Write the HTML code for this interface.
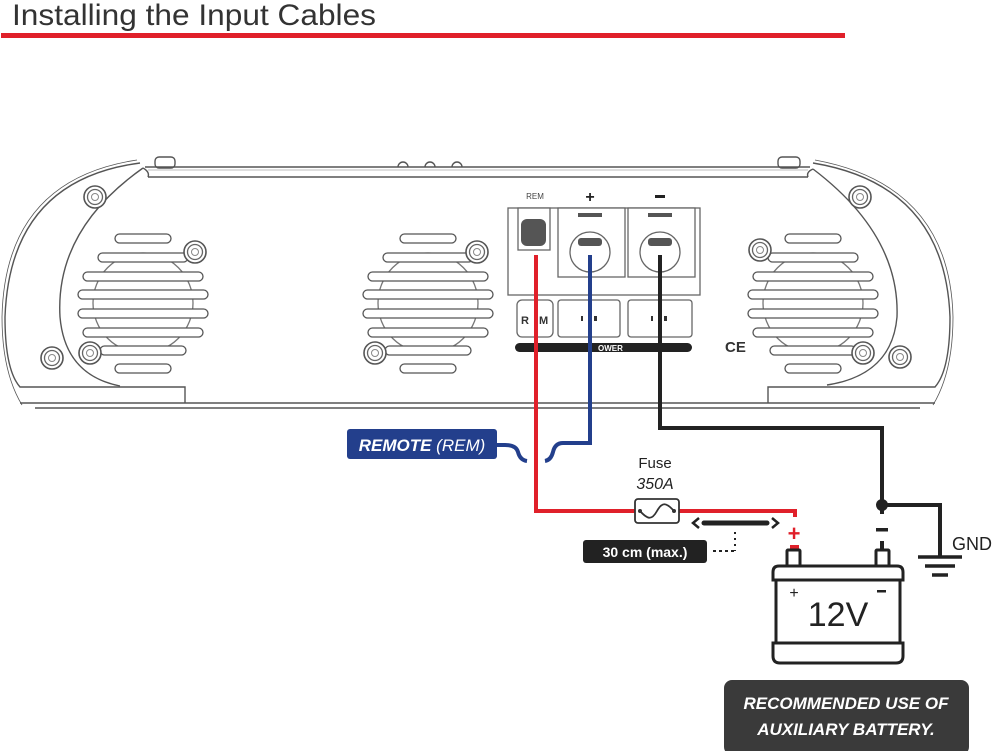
<!DOCTYPE html>
<html><head><meta charset="utf-8"><style>
html,body{margin:0;padding:0;background:#fff;}
svg{display:block;}
text{font-family:"Liberation Sans",sans-serif;}
</style></head><body>
<svg width="1000" height="751" viewBox="0 0 1000 751" xmlns="http://www.w3.org/2000/svg">
<defs>
<g id="screw"><circle r="11" fill="#fff" stroke="#555" stroke-width="1.6"/><circle r="7.5" fill="none" stroke="#666" stroke-width="1.3"/><circle r="3.5" fill="none" stroke="#888" stroke-width="1"/></g>
<g id="fan" fill="#fff" stroke="#555" stroke-width="1.3">
<circle cx="0" cy="303" r="50" fill="none" stroke="#777"/>
<rect x="-28" y="234" width="56" height="9" rx="4.5"/>
<rect x="-45" y="253" width="90" height="9" rx="4.5"/>
<rect x="-60" y="272" width="120" height="9" rx="4.5"/>
<rect x="-65" y="290" width="130" height="9" rx="4.5"/>
<rect x="-65" y="309" width="130" height="9" rx="4.5"/>
<rect x="-60" y="328" width="120" height="9" rx="4.5"/>
<rect x="-43" y="346" width="86" height="9" rx="4.5"/>
<rect x="-28" y="364" width="56" height="9" rx="4.5"/>
</g>
</defs>

<!-- title -->
<text x="12" y="25" font-size="30" fill="#333" textLength="364" lengthAdjust="spacingAndGlyphs">Installing the Input Cables</text>
<rect x="1" y="33" width="844" height="5" fill="#e0202a"/>

<!-- amp body -->
<g fill="none" stroke="#555" stroke-width="1.4">
<rect x="155" y="157" width="20" height="11" rx="4" fill="#fff"/>
<rect x="778" y="157" width="22" height="11" rx="4" fill="#fff"/>
<path d="M398 167 a5 5 0 0 1 10 0 M425 167 a5 5 0 0 1 10 0 M452 167 a5 5 0 0 1 10 0"/>
<line x1="145" y1="167" x2="810" y2="167"/>
<line x1="148" y1="177" x2="808" y2="177"/>
<line x1="148" y1="170" x2="808" y2="170" stroke="#aaa" stroke-width="0.8"/>
<path d="M140 163 Q 10 180 5 317 Q 5 370 20 387 L185 387 L185 403"/>
<path d="M137 160 Q 5 180 2 317 Q 2 372 22 405" stroke-width="0.8"/>
<path d="M143 168 Q 55 230 60 317 Q 65 375 120 386" />
<path d="M143 168 Q 150 172 148 177" />
<path d="M813 163 Q 945 185 950 317 Q 950 370 935 387 L768 387 L768 403"/>
<path d="M815 160 Q 950 185 953 317 Q 953 372 933 405" stroke-width="0.8"/>
<path d="M813 169 Q 900 235 897 317 Q 892 375 827 385"/>
<path d="M813 169 Q 806 172 808 177"/>
<line x1="20" y1="403" x2="935" y2="403"/>
<line x1="35" y1="408" x2="920" y2="408"/>
</g>

<use href="#fan" x="143"/>
<use href="#fan" x="428"/>
<use href="#fan" x="813"/>

<use href="#screw" x="95" y="197"/>
<use href="#screw" x="52" y="358"/>
<use href="#screw" x="90" y="353"/>
<use href="#screw" x="195" y="252"/>
<use href="#screw" x="477" y="252"/>
<use href="#screw" x="375" y="353"/>
<use href="#screw" x="860" y="197"/>
<use href="#screw" x="760" y="250"/>
<use href="#screw" x="863" y="353"/>
<use href="#screw" x="900" y="357"/>

<!-- terminal block -->
<g fill="#fff" stroke="#666" stroke-width="1.3">
<rect x="508" y="208" width="192" height="87"/>
<rect x="518" y="208" width="32" height="42"/>
<rect x="558" y="208" width="67" height="69"/>
<rect x="628" y="208" width="67" height="69"/>
<circle cx="590" cy="252" r="20"/>
<circle cx="660" cy="252" r="20"/>
<rect x="517" y="300" width="36" height="37" rx="5"/>
<rect x="558" y="300" width="62" height="37" rx="3"/>
<rect x="628" y="300" width="64" height="37" rx="3"/>
</g>
<rect x="521" y="219" width="25" height="27" rx="6" fill="#555"/>
<rect x="578" y="213" width="24" height="4" fill="#555"/>
<rect x="648" y="213" width="24" height="4" fill="#555"/>
<rect x="578" y="238" width="24" height="8" rx="3" fill="#555"/>
<rect x="648" y="238" width="24" height="8" rx="3" fill="#555"/>
<rect x="515" y="343" width="177" height="9" rx="4.5" fill="#222"/>
<text x="598" y="351" font-size="8" fill="#fff" font-weight="bold">OWER</text>
<text x="521" y="324" font-size="11" font-weight="bold" fill="#333">R</text>
<text x="539" y="324" font-size="11" font-weight="bold" fill="#333">M</text>
<rect x="581" y="316" width="2" height="5" fill="#333"/><rect x="594" y="316" width="3" height="5" fill="#333"/>
<rect x="651" y="316" width="2" height="5" fill="#333"/><rect x="664" y="316" width="3" height="5" fill="#333"/>
<text x="535" y="199" font-size="8" fill="#444" text-anchor="middle">REM</text>
<text x="590" y="202" font-size="16" font-weight="bold" fill="#222" text-anchor="middle">+</text>
<rect x="655" y="195" width="10" height="3" fill="#222"/>
<text x="725" y="352" font-size="15" fill="#333" font-weight="bold">CE</text>

<!-- wires -->
<path d="M660 255 V428 H882 V514" fill="none" stroke="#222" stroke-width="4"/>
<path d="M882 505 H940 V556" fill="none" stroke="#222" stroke-width="4"/>
<circle cx="882" cy="505" r="6" fill="#222"/>
<rect x="876" y="528" width="12" height="3.5" fill="#222"/>
<rect x="880" y="541" width="4" height="10" fill="#222"/>
<path d="M536 255 V511 H795 V517" fill="none" stroke="#e0202a" stroke-width="4"/>
<path d="M590 255 V443 H563 Q 555 443 553 452 Q 551 460 545 461 M527 461 Q 520 460 518 452 Q 516 445 505 445 H495" fill="none" stroke="#233f8c" stroke-width="4"/>

<!-- REMOTE label -->
<rect x="347" y="429" width="150" height="30" rx="3" fill="#233f8c"/>
<text x="422" y="451" font-size="17" font-weight="bold" font-style="italic" fill="#fff" text-anchor="middle">REMOTE <tspan font-weight="normal">(REM)</tspan></text>

<!-- fuse -->
<rect x="635" y="499" width="44" height="24" rx="3" fill="#fff" stroke="#333" stroke-width="1.8"/>
<path d="M640 511 C 648 520 652 520 657 511 C 662 502 666 502 674 511" fill="none" stroke="#333" stroke-width="1.8"/>
<circle cx="640" cy="511" r="2" fill="#333"/><circle cx="674" cy="511" r="2" fill="#333"/>
<text x="655" y="468" font-size="15" fill="#222" text-anchor="middle">Fuse</text>
<text x="655" y="489" font-size="16" font-style="italic" fill="#222" text-anchor="middle">350A</text>

<!-- red + marker -->
<text x="794" y="541" font-size="22" fill="#e0202a" text-anchor="middle" font-weight="bold">+</text>
<rect x="790" y="545" width="9" height="5" fill="#e0202a"/>

<!-- measurement -->
<path d="M699 518 L693 523 L699 528 M772 518 L778 523 L772 528" fill="none" stroke="#222" stroke-width="2.5"/>
<line x1="704" y1="523" x2="767" y2="523" stroke="#222" stroke-width="5" stroke-linecap="round"/>
<line x1="735" y1="532" x2="735" y2="551" stroke="#222" stroke-width="2" stroke-dasharray="2 4"/>
<line x1="713" y1="551" x2="736" y2="551" stroke="#222" stroke-width="2" stroke-dasharray="3 3"/>
<rect x="583" y="540" width="124" height="23" rx="3" fill="#222"/>
<text x="645" y="557" font-size="14" font-weight="bold" fill="#fff" text-anchor="middle">30 cm (max.)</text>

<!-- battery -->
<g fill="#fff" stroke="#222" stroke-width="3">
<rect x="787" y="550" width="13" height="18" rx="1"/>
<rect x="876" y="550" width="13" height="18" rx="1"/>
<path d="M773 580 V572 Q773 566 779 566 H897 Q903 566 903 572 V580 Z"/>
<rect x="776" y="580" width="124" height="63"/>
<path d="M773 643 H903 V656 Q903 663 896 663 H780 Q773 663 773 656 Z"/>
</g>
<text x="794" y="598" font-size="16" fill="#222" text-anchor="middle">+</text>
<rect x="877" y="590" width="9" height="2.5" fill="#222"/>
<text x="838" y="626" font-size="34" fill="#222" text-anchor="middle">12V</text>

<!-- ground -->
<g stroke="#222" stroke-width="3.5">
<line x1="918" y1="557" x2="962" y2="557"/>
<line x1="925" y1="566" x2="955" y2="566"/>
<line x1="932" y1="575" x2="948" y2="575"/>
</g>
<text x="952" y="550" font-size="18" fill="#222">GND</text>

<!-- recommended box -->
<rect x="724" y="680" width="245" height="75" rx="8" fill="#3a3a3a"/>
<text x="846" y="709" font-size="17" font-weight="bold" font-style="italic" fill="#fff" text-anchor="middle">RECOMMENDED USE OF</text>
<text x="846" y="735" font-size="17" font-weight="bold" font-style="italic" fill="#fff" text-anchor="middle">AUXILIARY BATTERY.</text>
</svg>
</body></html>
